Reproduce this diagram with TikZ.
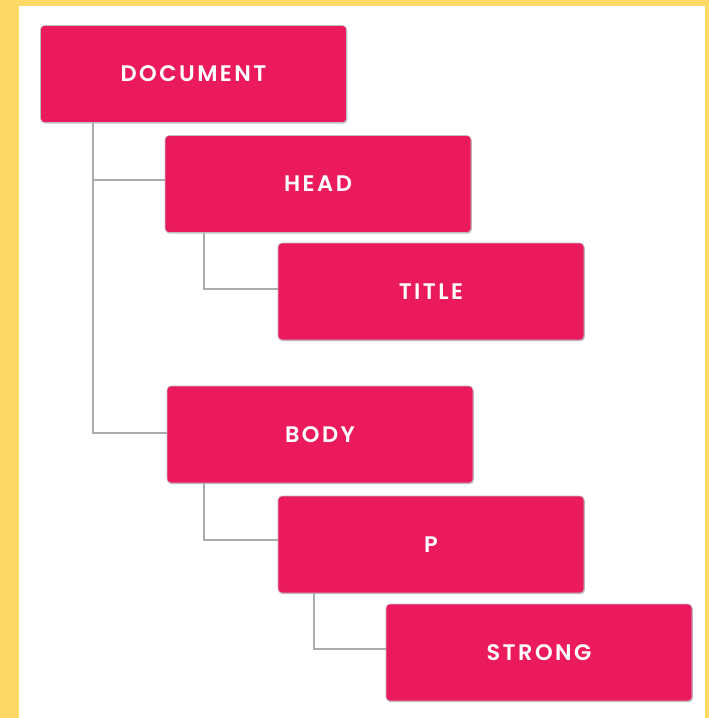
\documentclass[tikz,border=0pt]{standalone}
\usepackage{fontspec}
\setmainfont{Poppins}
\newfontfamily\tagfont[LetterSpace=11, BoldFont={Poppins SemiBold}]{Poppins}
\usetikzlibrary{shadows}
\definecolor{pinkbox}{HTML}{EB1A5D}
\definecolor{framey}{HTML}{FFD966}
\definecolor{linegray}{HTML}{ABABAB}
\begin{document}
\begin{tikzpicture}[x=1pt,y=-1pt,
  tagbox/.style={draw=black!25, line width=0.6pt, fill=pinkbox, rounded corners=4pt,
    minimum width=306pt, minimum height=97pt, text=white, inner sep=0pt,
    font=\tagfont\fontsize{22.5}{26}\selectfont\bfseries,
    drop shadow={shadow xshift=0.8pt, shadow yshift=-1.2pt, opacity=0.25, fill=black}},
  conn/.style={draw=linegray, line width=1.4pt}]
\useasboundingbox (0,0) rectangle (709,718);
\fill[framey] (0,0) rectangle (709,718);
\fill[white] (19,6) rectangle (705,718);
\node[tagbox] (doc) at (193.5,74) {DOCUMENT};
\node[tagbox] (head) at (318,184) {HEAD};
\node[tagbox] (title) at (431,291.5) {TITLE};
\node[tagbox] (body) at (320,434.5) {BODY};
\node[tagbox] (p) at (431,544.5) {P};
\node[tagbox] (strong) at (539,652.5) {STRONG};
\coordinate (d1) at (93,180);
\coordinate (d2) at (93,433);
\draw[conn] (doc.south -| d1) -- (d2) -- (d2 -| body.west);
\draw[conn] (d1) -- (d1 -| head.west);
\coordinate (h1) at (204,289);
\draw[conn] (head.south -| h1) -- (h1) -- (h1 -| title.west);
\coordinate (b1) at (204,540);
\draw[conn] (body.south -| b1) -- (b1) -- (b1 -| p.west);
\coordinate (p1) at (314,649);
\draw[conn] (p.south -| p1) -- (p1) -- (p1 -| strong.west);
\end{tikzpicture}
\end{document}
